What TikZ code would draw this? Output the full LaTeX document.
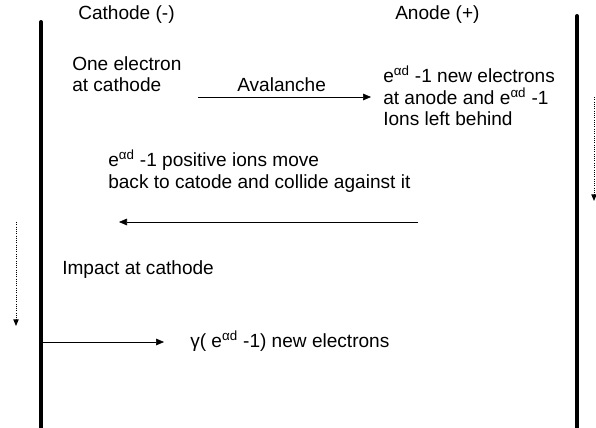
\documentclass[tikz,border=0pt]{standalone}
\usepackage{fontspec}
\setmainfont{Liberation Sans}
\usetikzlibrary{arrows.meta,positioning}

\begin{document}
\begin{tikzpicture}[
      x=0.75pt, y=-0.75pt,
      electrode/.style={line width=3pt, line cap=round},
      label/.style={inner sep=0pt, anchor=west, align=left,
        font=\fontsize{14.3}{16}\selectfont},
      arrow/.style={-{Triangle[length=6pt, width=5pt]}, thin},
      flow/.style={-{Triangle[length=5pt, width=4pt]}, densely dotted, line width=0.7pt}
    ]
      \useasboundingbox (0,0) rectangle (596,428);

      % Electrodes
      \coordinate (cattop) at (41,22);
      \coordinate (catbot) at (41,428);
      \coordinate (anotop) at (577,16);
      \coordinate (anobot) at (577,428);
      \draw[electrode] (cattop) -- (catbot);
      \draw[electrode] (anotop) -- (anobot);

      % Electrode labels
      \node[label] (cathode) at (78,15) {Cathode (-)};
      \node[label] (anode) at (395,15) {Anode (+)};

      % Steps of the process
      \node[label] (start) at (72,74) {One electron\\at cathode};
      \node[label] (aval) at (237,85) {Avalanche};
      \node[label] (result) at (383,96) {e\textsuperscript{αd} -1 new electrons\\at anode and e\textsuperscript{αd} -1\\Ions left behind};
      \node[label] (ions) at (108,171) {e\textsuperscript{αd} -1 positive ions move\\back to catode and collide against it};
      \node[label] (impact) at (62,270) {Impact at cathode};
      \node[label] (gamma) at (190,341) {γ( e\textsuperscript{αd} -1) new electrons};

      % Arrows
      \coordinate (avalfrom) at (198,97);
      \coordinate (avalto) at (371,97);
      \coordinate (backfrom) at (418,222);
      \coordinate (backto) at (119,222);
      \coordinate (emitfrom) at (42,342);
      \coordinate (emitto) at (164,342);
      \draw[arrow] (avalfrom) -- (avalto);
      \draw[arrow] (backfrom) -- (backto);
      \draw[arrow] (emitfrom) -- (emitto);

      % Time flow
      \coordinate (rtop) at (594,97);
      \coordinate (rbot) at (594,201);
      \coordinate (ltop) at (16,222);
      \coordinate (lbot) at (16,326);
      \draw[flow] (rtop) -- (rbot);
      \draw[flow] (ltop) -- (lbot);
    \end{tikzpicture}
\end{document}
